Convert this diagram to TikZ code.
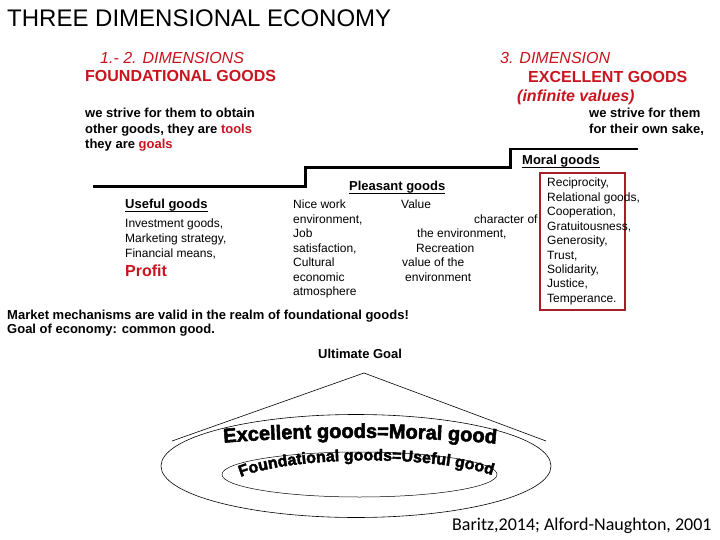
\documentclass[tikz,border=0pt]{standalone}
\usepackage{fontspec}
\setmainfont{Liberation Sans}
\newfontfamily\citefont{Carlito}
\newfontfamily\heavyfont[FakeBold=2.5]{Liberation Sans Bold}
\usetikzlibrary{decorations.text}
\definecolor{crimson}{RGB}{200,20,30}
\definecolor{boxred}{RGB}{165,30,40}
\tikzset{
  txt/.style={anchor=base west,inner sep=0pt,font=\fontsize{12}{14}\selectfont},
  btxt/.style={anchor=base west,inner sep=0pt,font=\fontsize{13}{15}\selectfont\bfseries},
  dimtxt/.style={anchor=base west,inner sep=0pt,text=crimson,font=\fontsize{16}{19}\selectfont#1},
  dimtxt/.default=\itshape,
  uline/.style={line width=1pt},
  stairs/.style={line width=3pt,line join=miter},
  cone/.style={line width=0.6pt},
  arched/.style={decorate,decoration={text along path,text align=center,text={#1}}},
}

\begin{document}
\begin{tikzpicture}[x=1pt,y=-1pt]
  \useasboundingbox (0,0) rectangle (720,540);
  \node[anchor=base west,inner sep=0pt,font=\fontsize{24}{28}\selectfont] (title) at (7,27) {THREE DIMENSIONAL ECONOMY};

  % the dimensions
  \node[dimtxt] (dim12) at (100,64) {1.- 2. DIMENSIONS};
  \node[dimtxt=\bfseries] (found) at (85,82) {FOUNDATIONAL GOODS};
  \node[dimtxt] (dim3) at (500,64) {3. DIMENSION};
  \node[dimtxt=\bfseries] (excel) at (528,83) {EXCELLENT GOODS};
  \node[dimtxt=\bfseries\itshape] (infinite) at (517,102) {(infinite values)};
  \foreach \t [count=\i from 0] in {we strive for them to obtain,{other goods, they are \textcolor{crimson}{tools}},they are \textcolor{crimson}{goals}}
    \node[btxt] (tools-\i) at (85,118+\i*15.5) {\t};
  \foreach \t [count=\i from 0] in {we strive for them,{for their own sake,}}
    \node[btxt] (sake-\i) at (589,118+\i*15.5) {\t};

  % stairs
  \draw[stairs] (93,187) -- (305,187) -- (305,168) -- (510,168) -- (510,148);
  \draw[line width=1.5pt] (509,149) -- (638,149);
  \foreach \n/\x/\y/\t in {moral/522/165/Moral goods,pleasant/349/191/Pleasant goods,useful/125/209/Useful goods}{
    \node[btxt] (\n) at (\x,\y) {\t};
    \draw[uline] ([yshift=-2.5pt]\n.base west) -- ([yshift=-2.5pt]\n.base east);
  }

  % useful goods
  \foreach \t [count=\i from 0] in {{Investment goods,},{Marketing strategy,},{Financial means,}}
    \node[txt] (use-\i) at (125,228+\i*14.5) {\t};
  \node[anchor=base west,inner sep=0pt,text=crimson,font=\fontsize{16}{19}\selectfont\bfseries] (profit) at (125,276) {Profit};

  % pleasant goods
  \foreach \t [count=\i from 0] in {Nice work,{environment,},Job,{satisfaction,},Cultural,economic,atmosphere}
    \node[txt] (work-\i) at (293,209+\i*14.4) {\t};
  \foreach \x/\t [count=\i from 0] in {401/Value,474/character of,417/{the environment,},416/Recreation,402/value of the,405/environment}
    \node[txt] (value-\i) at (\x,209+\i*14.4) {\t};

  % moral goods
  \node[draw=boxred,line width=2pt,minimum width=85pt,minimum height=137pt,inner sep=0pt] (moralbox) at (582.5,241.5) {};
  \foreach \t [count=\i from 0] in {{Reciprocity,},{Relational goods,},{Cooperation,},{Gratuitousness,},{Generosity,},{Trust,},{Solidarity,},{Justice,},{Temperance.}}
    \node[txt] (virtue-\i) at (547,187+\i*14.4) {\t};

  \node[btxt] (market) at (7,319) {Market mechanisms are valid in the realm of foundational goods!};
  \node[btxt] (common) at (7,333) {Goal of economy: common good.};
  \node[btxt] (ultimate) at (318,358) {Ultimate Goal};

  % cone
  \coordinate (apex) at (364,373);
  \coordinate (cone-l) at (172,441);
  \coordinate (cone-r) at (546,441);
  \draw[cone] (cone-l) -- (apex) -- (cone-r);
  \draw[cone] (356,466) ellipse [x radius=195,y radius=51.5];
  \draw[line width=0.5pt] (359.5,474.5) ellipse [x radius=137.5,y radius=22.5];
  \path[arched={|\heavyfont\fontsize{20}{20}\selectfont|Excellent goods=Moral good}]
    (221,443) .. controls (300,436) and (420,436) .. (499,444);
  \path[arched={|\heavyfont\fontsize{16}{16}\selectfont|Foundational goods=Useful good}]
    (238,478) .. controls (290,456) and (430,454) .. (495,476);

  \node[anchor=base west,inner sep=0pt,font=\citefont\fontsize{18}{20}\selectfont] (cite) at (452,530) {Baritz,2014; Alford-Naughton, 2001};
\end{tikzpicture}
\end{document}
